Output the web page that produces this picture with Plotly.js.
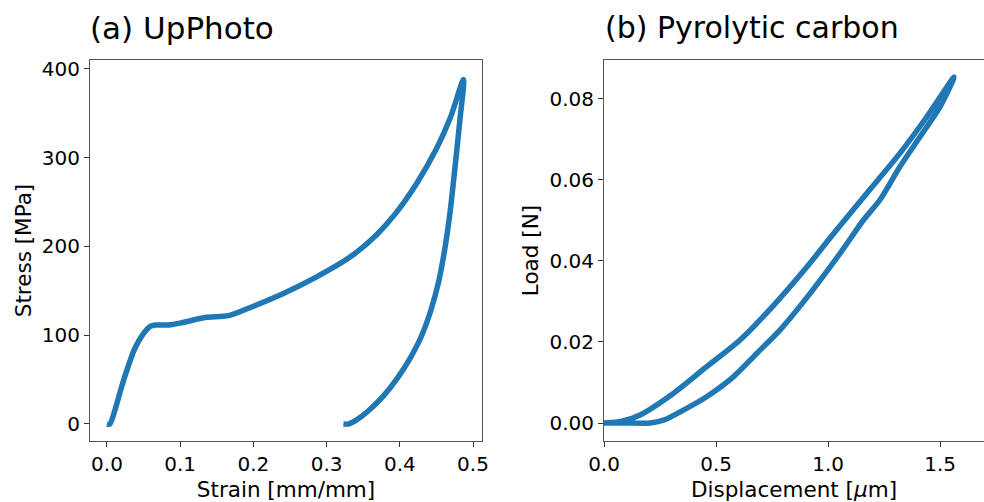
<!DOCTYPE html>
<html>
<head>
<meta charset="utf-8">
<script src="https://cdn.plot.ly/plotly-3.0.1.min.js"></script>
<style>html,body{margin:0;padding:0;background:#fff;}#chart{width:984px;height:502px;}</style>
</head>
<body>
<div id="chart"></div>
<script>
// (a) UpPhoto: stress-strain (loading then unloading)
const strainA = [0, 0.004, 0.011, 0.020, 0.029, 0.038, 0.050, 0.059, 0.066, 0.084, 0.102, 0.134, 0.166, 0.195, 0.241, 0.287, 0.332, 0.368, 0.394, 0.423, 0.450, 0.469, 0.487,
                 0.482, 0.475, 0.469, 0.462, 0.453, 0.442, 0.429, 0.414, 0.397, 0.378, 0.356, 0.340, 0.330, 0.323];
const stressA = [0, 0, 16, 42, 65, 85, 102, 110, 111.5, 111.5, 114, 120, 122, 131, 147, 166, 188, 213, 237, 271, 310, 345, 388,
                 342, 286, 241, 200, 160, 127, 98, 74, 52, 32, 14, 4, 0, 0];

// (b) Pyrolytic carbon: load-displacement loop (loading on top, unloading below)
const dispB = [0, 0.071, 0.161, 0.309, 0.458, 0.607, 0.756, 0.905, 1.024, 1.173, 1.321, 1.441, 1.5625,
               1.500, 1.411, 1.321, 1.232, 1.158, 1.054, 0.920, 0.786, 0.682, 0.577, 0.458, 0.354, 0.265, 0.205, 0.10, 0];
const loadB = [0, 0.0003, 0.0020, 0.0073, 0.0139, 0.0205, 0.0290, 0.0385, 0.0467, 0.0567, 0.0666, 0.0756, 0.0854,
               0.0781, 0.0707, 0.0633, 0.0551, 0.0501, 0.0419, 0.0320, 0.0230, 0.0172, 0.0114, 0.0065, 0.0032, 0.0007, 0, 0, 0];

const xTicksA = [0, 0.1, 0.2, 0.3, 0.4, 0.5];
const yTicksA = [0, 100, 200, 300, 400];
const xTicksB = [0, 0.5, 1.0, 1.5];
const yTicksB = [0, 0.02, 0.04, 0.06, 0.08];

const blue = '#1f77b4';
const font = {family: 'DejaVu Sans, sans-serif', size: 20, color: '#000'};
const titleFont = {family: 'DejaVu Sans, sans-serif', size: 21.5, color: '#000'};

const traces = [
  {x: strainA, y: stressA, mode: 'lines', line: {color: blue, width: 5.5, shape: 'spline', smoothing: 0.8}, xaxis: 'x', yaxis: 'y', hoverinfo: 'skip'},
  {x: dispB, y: loadB, mode: 'lines', line: {color: blue, width: 5.5, shape: 'spline', smoothing: 0.8}, xaxis: 'x2', yaxis: 'y2', hoverinfo: 'skip'}
];

function ax(extra) {
  return Object.assign({
    showline: true, mirror: true, linecolor: '#555', linewidth: 1,
    ticks: 'outside', ticklen: 5, tickwidth: 1, tickcolor: '#333',
    showgrid: false, zeroline: false, tickfont: font, automargin: false
  }, extra);
}

const layout = {
  width: 984, height: 502,
  margin: {l: 90, r: 0, t: 60, b: 61},
  paper_bgcolor: '#fff', plot_bgcolor: '#fff',
  showlegend: false,
  font: font,
  xaxis: ax({domain: [0, 0.4385], range: [-0.0232, 0.5123], tickvals: xTicksA, tickformat: '.1f',
            title: {text: 'Strain [mm/mm]', font: titleFont, standoff: 6}, anchor: 'y'}),
  yaxis: ax({domain: [0, 1], range: [-19.2, 410.1], tickvals: yTicksA,
            title: {text: 'Stress [MPa]', font: titleFont, standoff: 4}, anchor: 'x'}),
  xaxis2: ax({domain: [0.575, 1], range: [0, 1.696], tickvals: xTicksB, tickformat: '.1f',
            title: {text: 'Displacement [<i>μ</i>m]', font: titleFont, standoff: 6}, anchor: 'y2'}),
  yaxis2: ax({domain: [0, 1], range: [-0.00444, 0.0896], tickvals: yTicksB, tickformat: '.2f',
            title: {text: 'Load [N]', font: titleFont, standoff: 4}, anchor: 'x2'}),
  annotations: [
    {text: '(a) UpPhoto', xref: 'paper', yref: 'paper', x: -0.0022, y: 1.084, xanchor: 'left', yanchor: 'middle',
     showarrow: false, font: {family: 'DejaVu Sans, sans-serif', size: 31, color: '#000'}},
    {text: '(b) Pyrolytic carbon', xref: 'paper', yref: 'paper', x: 0.574, y: 1.084, xanchor: 'left', yanchor: 'middle',
     showarrow: false, font: {family: 'DejaVu Sans, sans-serif', size: 30, color: '#000'}}
  ]
};

Plotly.newPlot('chart', traces, layout, {staticPlot: true, displayModeBar: false});
</script>
</body>
</html>
